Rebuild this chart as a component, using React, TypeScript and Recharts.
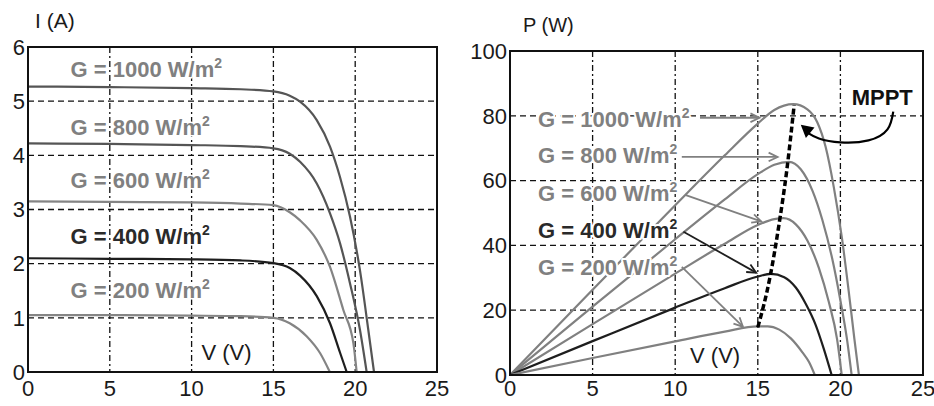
import {
  LineChart,
  Line,
  XAxis,
  YAxis,
  CartesianGrid,
  ReferenceArea,
  ReferenceDot,
  ReferenceLine
} from 'recharts';

const FONT = '"Liberation Sans", Arial, Helvetica, sans-serif';

// ---- I-V curves (V in volts, I in amps)
const ivV1000 = [0, 5, 10, 13, 15, 16, 16.63, 17.65, 18.46, 19.07, 19.68, 20.29, 20.8, 21.15];
const ivI1000 = [5.27, 5.26, 5.24, 5.22, 5.18, 5.1, 4.99, 4.65, 4.16, 3.6, 2.87, 1.88, 0.78, 0];
const ivV800 = [0, 5, 10, 13, 15, 16, 16.63, 17.65, 18.46, 19.07, 19.68, 20.29, 20.7];
const ivI800 = [4.22, 4.21, 4.19, 4.17, 4.13, 4.03, 3.88, 3.48, 2.93, 2.38, 1.64, 0.78, 0];
const ivV600 = [0, 5, 10, 13, 15, 16, 16.63, 17.65, 18.46, 19.28, 19.89, 20.09];
const ivI600 = [3.15, 3.14, 3.13, 3.11, 3.08, 2.95, 2.8, 2.44, 1.94, 1.14, 0.53, 0];
const ivV400 = [0, 5, 10, 13, 15, 16, 16.63, 17.65, 18.46, 19.07, 19.48];
const ivI400 = [2.1, 2.09, 2.08, 2.06, 2.01, 1.92, 1.78, 1.4, 0.9, 0.36, 0];
const ivV200 = [0, 5, 10, 13, 15, 16, 17.03, 17.85, 18.45];
const ivI200 = [1.05, 1.05, 1.04, 1.03, 1.0, 0.9, 0.66, 0.35, 0];

// ---- P-V curves (V in volts, P in watts)
const pvV1000 = [0, 5, 10, 13, 15, 16, 17.15, 18, 18.6, 19.1, 19.6, 20.1, 20.5, 20.85, 21.12];
const pvP1000 = [0, 26.3, 52.4, 67.8, 77.6, 81.8, 83.6, 82, 78, 70.5, 58, 42, 26, 11, 0];
const pvV800 = [0, 5, 10, 13, 15, 16, 16.9, 17.6, 18.3, 18.9, 19.5, 20, 20.4, 20.68];
const pvP800 = [0, 21.1, 41.9, 54.2, 62, 64.9, 65.8, 63.5, 57, 48, 36, 23, 11, 0];
const pvV600 = [0, 5, 10, 13, 15, 16, 16.55, 17.3, 18, 18.7, 19.3, 19.8, 20.08];
const pvP600 = [0, 15.7, 31.3, 40.5, 46.3, 48.1, 48.4, 46.5, 41.5, 33, 22.5, 11, 0];
const pvV400 = [0, 5, 10, 13, 15, 15.8, 16.6, 17.3, 17.9, 18.5, 19, 19.47];
const pvP400 = [0, 10.45, 20.8, 26.8, 30.4, 31.2, 30.2, 27, 22, 15.5, 8, 0];
const pvV200 = [0, 5, 10, 13, 15, 15.6, 16.3, 17, 17.7, 18.1, 18.45];
const pvP200 = [0, 5.25, 10.4, 13.4, 15, 15, 14, 11.3, 7, 4, 0];

// maximum power points joined by the dashed MPPT line
const mppV = [15.0, 15.75, 16.3, 16.75, 17.2];
const mppP = [14.7, 30.5, 47, 63, 83.3];

// curved arrow under "MPPT"
const mpptArrowV = [23.2, 22.85, 21.7, 20.0, 18.7, 18.0];
const mpptArrowP = [81.3, 75.8, 72.4, 71.8, 73.0, 74.8];

const vTicks = [0, 5, 10, 15, 20, 25];
const iTicks = [0, 1, 2, 3, 4, 5, 6];
const pTicks = [0, 20, 40, 60, 80, 100];

const gLabels = ['G = 1000 W/m', 'G = 800 W/m', 'G = 600 W/m', 'G = 400 W/m', 'G = 200 W/m'];
// label anchors (left plot in V/A, right plot in V/W)
const ivLabelV = 2.6;
const ivLabelI = [5.45, 4.37, 3.39, 2.37, 1.36];
const pvLabelV = 1.7;
const pvLabelP = [76.6, 65.3, 53.7, 42.2, 30.9];
// arrows from the right-hand labels to their curves
const arrowFrom = [[11.5, 79.4], [10.4, 67.3], [10.6, 55.6], [10.5, 44.2], [10.4, 33.4]];
const arrowTo = [[15.1, 79.4], [16.2, 67.3], [15.2, 47.4], [14.9, 31.6], [14.1, 14.9]];

const rows = (xs: number[], ys: number[]) => xs.map((v, k) => ({ v, y: ys[k] }));

const ivSeries = [
  { data: rows(ivV1000, ivI1000), color: '#555' },
  { data: rows(ivV800, ivI800), color: '#555' },
  { data: rows(ivV600, ivI600), color: '#848484' },
  { data: rows(ivV400, ivI400), color: '#1e1e1e' },
  { data: rows(ivV200, ivI200), color: '#848484' }
];
const pvSeries = [
  { data: rows(pvV1000, pvP1000), color: '#808080' },
  { data: rows(pvV800, pvP800), color: '#808080' },
  { data: rows(pvV600, pvP600), color: '#808080' },
  { data: rows(pvV400, pvP400), color: '#1e1e1e' },
  { data: rows(pvV200, pvP200), color: '#808080' }
];
const labelColors = ['#808080', '#808080', '#808080', '#2a2a2a', '#808080'];

const GText = (props: any) => {
  const { viewBox, txt, color, sup, bold = true, size = 22, halo = 0 } = props;
  const x = viewBox?.x ?? 0;
  const y = viewBox?.y ?? 0;
  return (
    <text
      x={x}
      y={y}
      fill={color}
      fontSize={size}
      fontWeight={bold ? 'bold' : 'normal'}
      fontFamily={FONT}
      stroke={halo ? '#fff' : 'none'}
      strokeWidth={halo}
      strokeLinejoin="round"
      paintOrder="stroke"
    >
      {txt}
      {sup && (
        <tspan fontSize={14} dy={-9}>
          {sup}
        </tspan>
      )}
    </text>
  );
};

const makeArrow = (color: string, width: number, head: 'open' | 'only') => (p: any) => {
  const { x1, y1, x2, y2 } = p;
  if ([x1, y1, x2, y2].some((n) => typeof n !== 'number' || isNaN(n))) return <g />;
  const a = Math.atan2(y2 - y1, x2 - x1);
  const L = head === 'open' ? 10 : 14;
  const w = head === 'open' ? 0.45 : 0.5;
  const lx = x2 - L * Math.cos(a - w);
  const ly = y2 - L * Math.sin(a - w);
  const rx = x2 - L * Math.cos(a + w);
  const ry = y2 - L * Math.sin(a + w);
  if (head === 'only') {
    return <polygon points={`${lx},${ly} ${x2},${y2} ${rx},${ry}`} fill={color} />;
  }
  return (
    <g>
      <line x1={x1} y1={y1} x2={x2} y2={y2} stroke={color} strokeWidth={width} />
      <polyline
        points={`${lx},${ly} ${x2},${y2} ${rx},${ry}`}
        fill="none"
        stroke={color}
        strokeWidth={width}
      />
    </g>
  );
};

const tickStyle = { fill: '#1a1a1a', fontSize: 22, fontFamily: FONT };
const axisLine = { stroke: '#111', strokeWidth: 2 };

const Grid = () => (
  <>
    <CartesianGrid vertical={false} stroke="#111" strokeWidth={1.3} strokeDasharray="6 4" />
    <CartesianGrid horizontal={false} stroke="#111" strokeWidth={1.3} strokeDasharray="6 3 2 3" />
  </>
);

const IVChart = () => (
  <LineChart width={450} height={406} margin={{ top: 47, right: 13, bottom: 4, left: 0 }}>
    <CartesianGrid vertical={false} stroke="#111" strokeWidth={1.3} strokeDasharray="6 4" />
    <CartesianGrid horizontal={false} stroke="#111" strokeWidth={1.3} strokeDasharray="6 3 2 3" />
    <XAxis
      dataKey="v"
      type="number"
      domain={[0, 25]}
      ticks={vTicks}
      interval={0}
      tickLine={false}
      tickSize={0}
      tickMargin={8}
      height={30}
      axisLine={axisLine}
      tick={tickStyle}
    />
    <YAxis
      type="number"
      domain={[0, 6]}
      ticks={iTicks}
      interval={0}
      tickLine={false}
      tickSize={0}
      tickMargin={3}
      width={28}
      axisLine={axisLine}
      tick={tickStyle}
    />
    <ReferenceArea x1={0} x2={25} y1={0} y2={6} fill="none" stroke="#111" strokeWidth={2} ifOverflow="visible" />
    {ivSeries.map((s, k) => (
      <Line
        key={k}
        data={s.data}
        dataKey="y"
        type="monotone"
        stroke={s.color}
        strokeWidth={2.2}
        dot={false}
        isAnimationActive={false}
      />
    ))}
    {gLabels.map((t, k) => (
      <ReferenceDot
        key={t}
        x={ivLabelV}
        y={ivLabelI[k]}
        r={0}
        ifOverflow="visible"
        label={<GText txt={t} sup="2" color={labelColors[k]} halo={3} />}
      />
    ))}
    <ReferenceDot
      x={10.6}
      y={0.22}
      r={0}
      ifOverflow="visible"
      label={<GText txt="V (V)" color="#1a1a1a" bold={false} />}
    />
  </LineChart>
);

const PVChart = () => (
  <LineChart width={474} height={406} margin={{ top: 51, right: 11, bottom: 3, left: 0 }}>
    <CartesianGrid vertical={false} stroke="#111" strokeWidth={1.3} strokeDasharray="6 4" />
    <CartesianGrid horizontal={false} stroke="#111" strokeWidth={1.3} strokeDasharray="6 3 2 3" />
    <XAxis
      dataKey="v"
      type="number"
      domain={[0, 25]}
      ticks={vTicks}
      interval={0}
      tickLine={false}
      tickSize={0}
      tickMargin={5}
      height={28}
      axisLine={axisLine}
      tick={tickStyle}
    />
    <YAxis
      type="number"
      domain={[0, 100]}
      ticks={pTicks}
      interval={0}
      tickLine={false}
      tickSize={0}
      tickMargin={3}
      width={50}
      axisLine={axisLine}
      tick={tickStyle}
    />
    <ReferenceArea x1={0} x2={25} y1={0} y2={100} fill="none" stroke="#111" strokeWidth={2} ifOverflow="visible" />
    {pvSeries.map((s, k) => (
      <Line
        key={k}
        data={s.data}
        dataKey="y"
        type="monotone"
        stroke={s.color}
        strokeWidth={2.2}
        dot={false}
        isAnimationActive={false}
      />
    ))}
    {gLabels.map((t, k) => (
      <ReferenceDot
        key={t}
        x={pvLabelV}
        y={pvLabelP[k]}
        r={0}
        ifOverflow="visible"
        label={<GText txt={t} sup="2" color={labelColors[k]} halo={4} />}
      />
    ))}
    {arrowFrom.map((f, k) => (
      <ReferenceLine
        key={'a' + k}
        segment={[
          { x: f[0], y: f[1] },
          { x: arrowTo[k][0], y: arrowTo[k][1] }
        ]}
        ifOverflow="visible"
        shape={makeArrow(labelColors[k] === '#2a2a2a' ? '#1e1e1e' : '#808080', 1.8, 'open')}
      />
    ))}
    <Line
      data={rows(mppV, mppP)}
      dataKey="y"
      type="monotone"
      stroke="#000"
      strokeWidth={3.5}
      strokeDasharray="6 3"
      dot={false}
      isAnimationActive={false}
    />
    <Line
      data={rows(mpptArrowV, mpptArrowP)}
      dataKey="y"
      type="natural"
      stroke="#000"
      strokeWidth={2.2}
      dot={false}
      isAnimationActive={false}
    />
    <ReferenceLine
      segment={[
        { x: 18.4, y: 73.8 },
        { x: 17.6, y: 77.2 }
      ]}
      ifOverflow="visible"
      shape={makeArrow('#000', 2, 'only')}
    />
    <ReferenceDot
      x={20.68}
      y={83.3}
      r={0}
      ifOverflow="visible"
      label={<GText txt="MPPT" color="#111" size={22} />}
    />
    <ReferenceDot
      x={10.9}
      y={3.7}
      r={0}
      ifOverflow="visible"
      label={<GText txt="V (V)" color="#1a1a1a" bold={false} />}
    />
  </LineChart>
);

const App = () => (
  <div
    style={{
      position: 'absolute',
      left: 0,
      top: 0,
      width: 934,
      height: 406,
      background: '#fff',
      overflow: 'hidden'
    }}
  >
    <div style={{ position: 'absolute', left: 0, top: 0 }}>
      <IVChart />
    </div>
    <div style={{ position: 'absolute', left: 460, top: 0 }}>
      <PVChart />
    </div>
    <svg
      width={934}
      height={406}
      style={{ position: 'absolute', left: 0, top: 0, pointerEvents: 'none' }}
    >
      <text x={35} y={28} fontSize={21} fontFamily={FONT} fill="#1a1a1a">
        I (A)
      </text>
      <text x={523} y={32} fontSize={20} fontFamily={FONT} fill="#1a1a1a">
        P (W)
      </text>
    </svg>
  </div>
);

export default App;
